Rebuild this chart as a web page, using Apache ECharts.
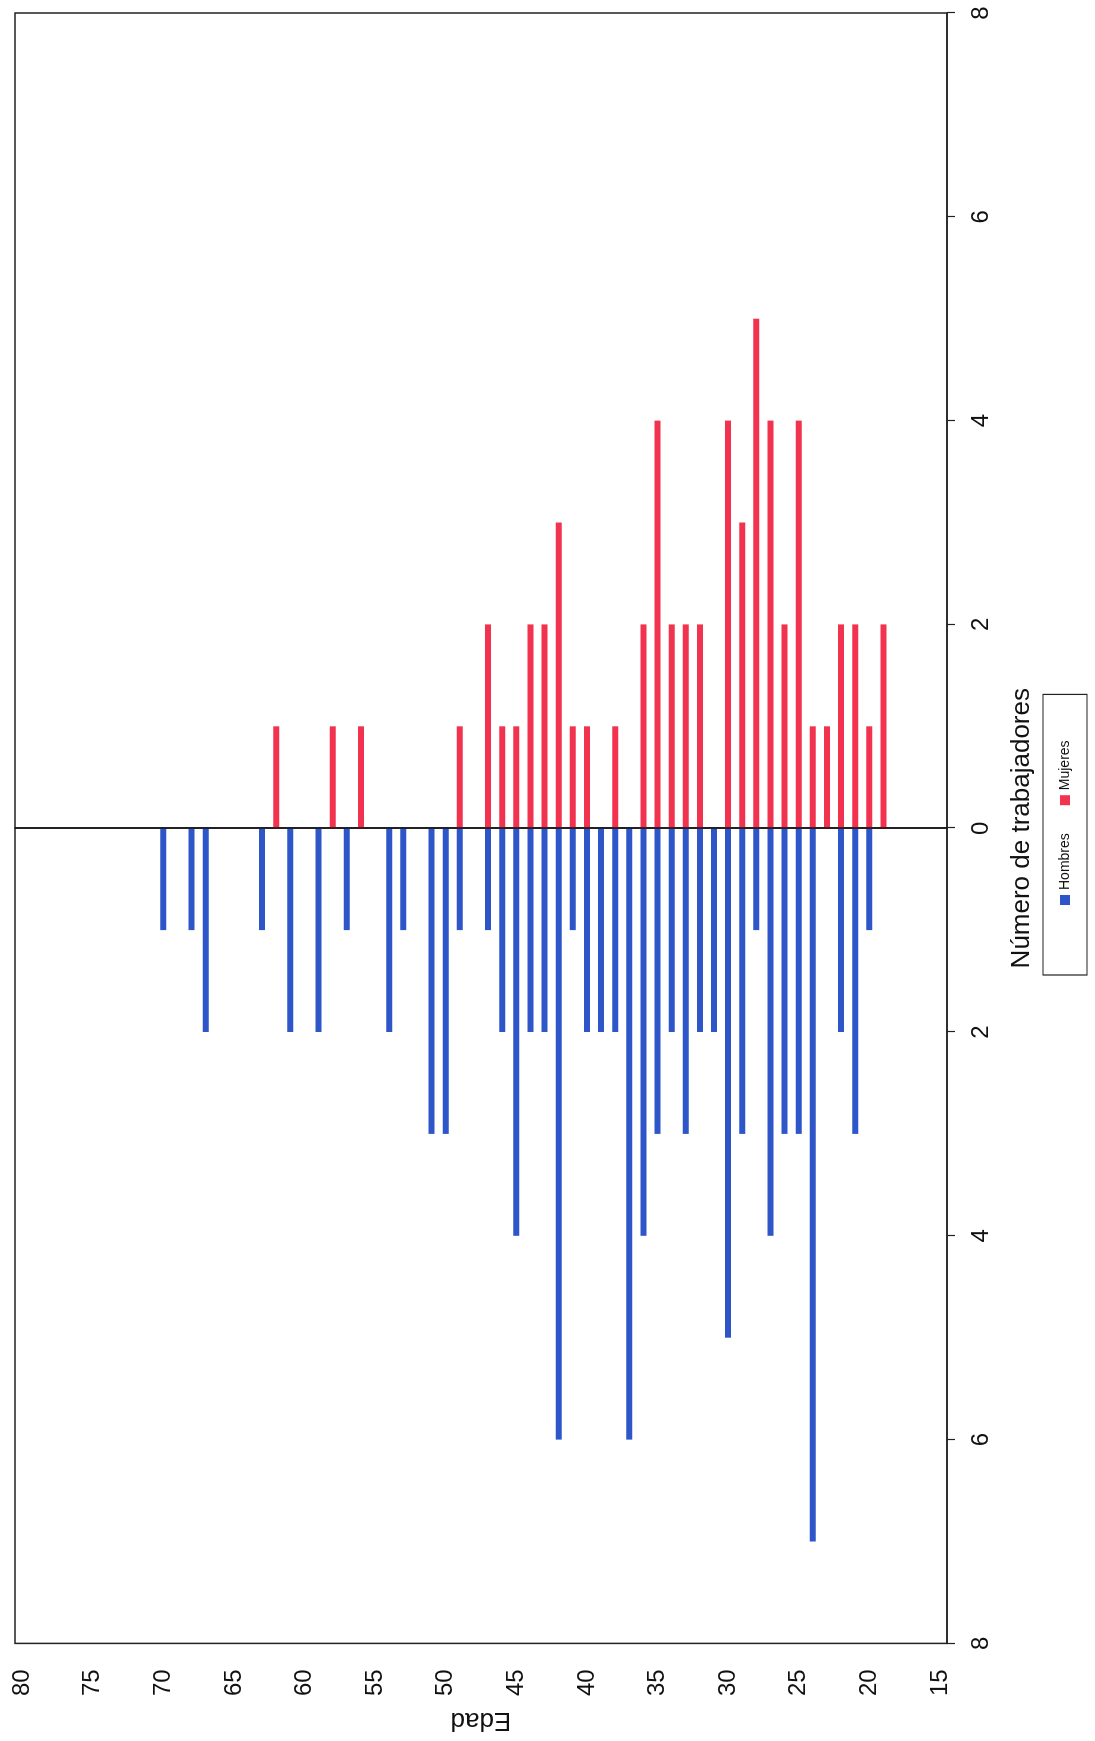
<!DOCTYPE html>
<html>
<head>
<meta charset="utf-8">
<script src="https://cdn.jsdelivr.net/npm/echarts@6/dist/echarts.min.js"></script>
<style>
  html, body { margin: 0; padding: 0; width: 1095px; height: 1741px; overflow: hidden; background: #ffffff; }
  #chart { position: absolute; left: 0; top: 0; width: 1741px; height: 1095px;
           transform-origin: 0 0; transform: translateY(1741px) rotate(-90deg); background: #ffffff; }
</style>
</head>
<body>
<div id="chart"></div>
<script>
// Ages (categories), 15 .. 80
const ages = ['15','16','17','18','19','20','21','22','23','24','25','26','27','28','29','30',
  '31','32','33','34','35','36','37','38','39','40','41','42','43','44','45','46','47','48','49','50',
  '51','52','53','54','55','56','57','58','59','60','61','62','63','64','65','66','67','68','69','70',
  '71','72','73','74','75','76','77','78','79','80'];

// Hombres: number of workers per age (15 .. 80)
const hombres = [0,0,0,0,0,1,3,2,0,7,3,3,4,1,3,5,
  2,2,3,2,3,4,6,2,2,2,1,6,2,2,4,2,1,0,1,3,
  3,0,1,2,0,0,1,0,2,0,2,0,1,0,0,0,2,1,0,1,
  0,0,0,0,0,0,0,0,0,0];

// Mujeres: number of workers per age (15 .. 80)
const mujeres = [0,0,0,0,2,1,2,2,1,1,4,2,4,5,3,4,
  0,2,2,2,4,2,0,1,0,1,1,3,2,2,1,1,2,0,1,0,
  0,0,0,0,0,1,0,1,0,0,0,1,0,0,0,0,0,0,0,0,
  0,0,0,0,0,0,0,0,0,0];

const seriesNames = ['Hombres', 'Mujeres'];
const countTicks = [-8, -6, -4, -2, 0, 2, 4, 6, 8];

const FONT = "'Liberation Sans', Arial, sans-serif";
const chart = echarts.init(document.getElementById('chart'));

chart.setOption({
  animation: false,
  backgroundColor: '#ffffff',
  textStyle: { fontFamily: FONT },
  grid: { left: 97, right: 13, top: 15, bottom: 148, show: true, borderColor: '#222', borderWidth: 1.5, backgroundColor: 'transparent' },
  legend: {
    data: seriesNames,
    orient: 'horizontal',
    left: 766, top: 1043,
    padding: [15, 46, 15, 70],
    itemGap: 28,
    itemWidth: 10, itemHeight: 10,
    icon: 'rect',
    borderColor: '#222', borderWidth: 1.2,
    textStyle: { fontSize: 14, color: '#111', fontFamily: FONT }
  },
  xAxis: {
    type: 'value',
    min: countTicks[0], max: countTicks[countTicks.length - 1], interval: 2,
    name: 'Número de trabajadores',
    nameLocation: 'middle', nameGap: 62,
    nameTextStyle: { fontSize: 26, color: '#111', fontFamily: FONT },
    axisLine: { show: true, onZero: false, lineStyle: { color: '#222', width: 1.5 } },
    axisTick: { show: true, length: 8, lineStyle: { color: '#222', width: 1.2 } },
    axisLabel: { fontSize: 24, color: '#111', margin: 22, formatter: v => String(Math.abs(v)) },
    splitLine: { show: false }
  },
  yAxis: {
    type: 'category',
    data: ages,
    boundaryGap: true,
    name: 'Edad',
    nameLocation: 'middle', nameGap: 62, nameRotate: 90,
    nameTextStyle: { fontSize: 26, color: '#111', fontFamily: FONT },
    axisLine: { show: true, lineStyle: { color: '#222', width: 1.5 } },
    axisTick: { show: false },
    axisLabel: { fontSize: 24, color: '#111', margin: 26, interval: (i, v) => Number(v) % 5 === 0 },
    splitLine: { show: false }
  },
  series: [
    {
      name: seriesNames[0], type: 'bar',
      data: hombres.map(v => -v),
      barWidth: 6, barGap: '-100%',
      itemStyle: { color: '#2e56c9' }
    },
    {
      name: seriesNames[1], type: 'bar',
      data: mujeres,
      barWidth: 6, barGap: '-100%',
      itemStyle: { color: '#f2334f' },
      markLine: {
        silent: true, symbol: 'none', label: { show: false },
        lineStyle: { color: '#111', width: 1.5, type: 'solid' },
        data: [{ xAxis: 0 }]
      }
    }
  ]
});
</script>
</body>
</html>
